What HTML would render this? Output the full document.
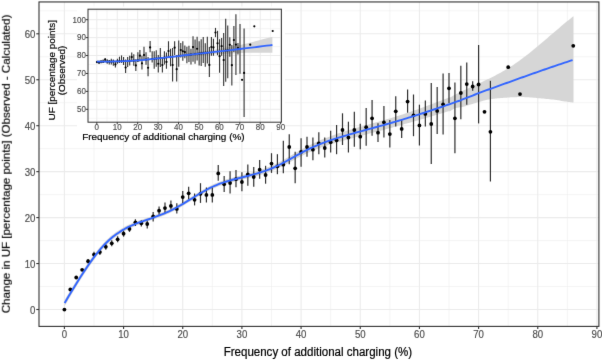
<!DOCTYPE html>
<html><head><meta charset="utf-8"><style>
html,body{margin:0;padding:0;background:#fff;width:602px;height:360px;overflow:hidden}
svg{display:block;font-family:"Liberation Sans",sans-serif}
</style></head><body>
<svg width="602" height="360" viewBox="0 0 602 360"><defs><filter id="bl" x="0" y="0" width="602" height="360" filterUnits="userSpaceOnUse" color-interpolation-filters="sRGB"><feConvolveMatrix order="3" kernelMatrix="0.00524 0.06192 0.00524 0.06192 0.73137 0.06192 0.00524 0.06192 0.00524" edgeMode="duplicate"/></filter></defs><g filter="url(#bl)">
<rect x="0" y="0" width="602" height="360" fill="#fff"/>
<line x1="93.99" y1="1.95" x2="93.99" y2="326.4" stroke="#ebebeb" stroke-width="0.55"/>
<line x1="153.16" y1="1.95" x2="153.16" y2="326.4" stroke="#ebebeb" stroke-width="0.55"/>
<line x1="212.32" y1="1.95" x2="212.32" y2="326.4" stroke="#ebebeb" stroke-width="0.55"/>
<line x1="271.50" y1="1.95" x2="271.50" y2="326.4" stroke="#ebebeb" stroke-width="0.55"/>
<line x1="330.66" y1="1.95" x2="330.66" y2="326.4" stroke="#ebebeb" stroke-width="0.55"/>
<line x1="389.84" y1="1.95" x2="389.84" y2="326.4" stroke="#ebebeb" stroke-width="0.55"/>
<line x1="449.00" y1="1.95" x2="449.00" y2="326.4" stroke="#ebebeb" stroke-width="0.55"/>
<line x1="508.17" y1="1.95" x2="508.17" y2="326.4" stroke="#ebebeb" stroke-width="0.55"/>
<line x1="567.35" y1="1.95" x2="567.35" y2="326.4" stroke="#ebebeb" stroke-width="0.55"/>
<line x1="39.0" y1="286.52" x2="598.9" y2="286.52" stroke="#ebebeb" stroke-width="0.55"/>
<line x1="39.0" y1="240.57" x2="598.9" y2="240.57" stroke="#ebebeb" stroke-width="0.55"/>
<line x1="39.0" y1="194.62" x2="598.9" y2="194.62" stroke="#ebebeb" stroke-width="0.55"/>
<line x1="39.0" y1="148.68" x2="598.9" y2="148.68" stroke="#ebebeb" stroke-width="0.55"/>
<line x1="39.0" y1="102.73" x2="598.9" y2="102.73" stroke="#ebebeb" stroke-width="0.55"/>
<line x1="39.0" y1="56.78" x2="598.9" y2="56.78" stroke="#ebebeb" stroke-width="0.55"/>
<line x1="39.0" y1="10.82" x2="598.9" y2="10.82" stroke="#ebebeb" stroke-width="0.55"/>
<line x1="64.40" y1="1.95" x2="64.40" y2="326.4" stroke="#ebebeb" stroke-width="1.1"/>
<line x1="123.57" y1="1.95" x2="123.57" y2="326.4" stroke="#ebebeb" stroke-width="1.1"/>
<line x1="182.74" y1="1.95" x2="182.74" y2="326.4" stroke="#ebebeb" stroke-width="1.1"/>
<line x1="241.91" y1="1.95" x2="241.91" y2="326.4" stroke="#ebebeb" stroke-width="1.1"/>
<line x1="301.08" y1="1.95" x2="301.08" y2="326.4" stroke="#ebebeb" stroke-width="1.1"/>
<line x1="360.25" y1="1.95" x2="360.25" y2="326.4" stroke="#ebebeb" stroke-width="1.1"/>
<line x1="419.42" y1="1.95" x2="419.42" y2="326.4" stroke="#ebebeb" stroke-width="1.1"/>
<line x1="478.59" y1="1.95" x2="478.59" y2="326.4" stroke="#ebebeb" stroke-width="1.1"/>
<line x1="537.76" y1="1.95" x2="537.76" y2="326.4" stroke="#ebebeb" stroke-width="1.1"/>
<line x1="596.93" y1="1.95" x2="596.93" y2="326.4" stroke="#ebebeb" stroke-width="1.1"/>
<line x1="39.0" y1="309.50" x2="598.9" y2="309.50" stroke="#ebebeb" stroke-width="1.1"/>
<line x1="39.0" y1="263.55" x2="598.9" y2="263.55" stroke="#ebebeb" stroke-width="1.1"/>
<line x1="39.0" y1="217.60" x2="598.9" y2="217.60" stroke="#ebebeb" stroke-width="1.1"/>
<line x1="39.0" y1="171.65" x2="598.9" y2="171.65" stroke="#ebebeb" stroke-width="1.1"/>
<line x1="39.0" y1="125.70" x2="598.9" y2="125.70" stroke="#ebebeb" stroke-width="1.1"/>
<line x1="39.0" y1="79.75" x2="598.9" y2="79.75" stroke="#ebebeb" stroke-width="1.1"/>
<line x1="39.0" y1="33.80" x2="598.9" y2="33.80" stroke="#ebebeb" stroke-width="1.1"/>
<path d="M64.60,300.06 L66.60,296.71 L68.60,293.38 L70.60,290.06 L72.60,286.78 L74.60,283.53 L76.60,280.32 L78.60,277.15 L80.60,274.03 L82.60,270.94 L84.60,267.92 L86.60,264.97 L88.60,262.07 L90.60,259.25 L92.60,256.51 L94.60,253.83 L96.60,251.25 L98.60,248.76 L100.60,246.39 L102.60,244.16 L104.60,242.04 L106.60,240.03 L108.60,238.14 L110.60,236.37 L112.60,234.71 L114.60,233.17 L116.60,231.75 L118.60,230.43 L120.60,229.19 L122.60,227.99 L124.60,226.86 L126.60,225.81 L128.60,224.84 L130.60,223.93 L132.60,223.07 L134.60,222.26 L136.60,221.50 L138.60,220.77 L140.60,220.07 L142.60,219.39 L144.60,218.72 L146.60,218.07 L148.60,217.42 L150.60,216.75 L152.60,216.05 L154.60,215.34 L156.60,214.61 L158.60,213.87 L160.60,213.10 L162.60,212.30 L164.60,211.47 L166.60,210.60 L168.60,209.70 L170.60,208.75 L172.60,207.74 L174.60,206.69 L176.60,205.60 L178.60,204.48 L180.60,203.32 L182.60,202.13 L184.60,200.92 L186.60,199.70 L188.60,198.47 L190.60,197.23 L192.60,195.99 L194.60,194.75 L196.60,193.53 L198.60,192.32 L200.60,191.13 L202.60,189.96 L204.60,188.83 L206.60,187.73 L208.60,186.67 L210.60,185.65 L212.60,184.69 L214.60,183.79 L216.60,182.94 L218.60,182.14 L220.60,181.39 L222.60,180.68 L224.60,180.01 L226.60,179.37 L228.60,178.77 L230.60,178.18 L232.60,177.63 L234.60,177.09 L236.60,176.56 L238.60,176.04 L240.60,175.53 L242.60,175.02 L244.60,174.52 L246.60,173.98 L248.60,173.44 L250.60,172.89 L252.60,172.32 L254.60,171.75 L256.60,171.15 L258.60,170.52 L260.60,169.88 L262.60,169.20 L264.60,168.49 L266.60,167.76 L268.60,166.98 L270.60,166.16 L272.60,165.30 L274.60,164.38 L276.60,163.43 L278.60,162.42 L280.60,161.38 L282.60,160.31 L284.60,159.20 L286.60,158.07 L288.60,156.93 L290.60,155.77 L292.60,154.61 L294.60,153.46 L296.60,152.30 L298.60,151.16 L300.60,150.02 L302.60,148.89 L304.60,147.80 L306.60,146.73 L308.60,145.69 L310.60,144.68 L312.60,143.71 L314.60,142.77 L316.60,141.85 L318.60,140.97 L320.60,140.11 L322.60,139.28 L324.60,138.48 L326.60,137.69 L328.60,136.92 L330.60,136.18 L332.60,135.45 L334.60,134.74 L336.60,134.04 L338.60,133.36 L340.60,132.70 L342.60,132.04 L344.60,131.38 L346.60,130.78 L348.60,130.18 L350.60,129.59 L352.60,129.00 L354.60,128.42 L356.60,127.84 L358.60,127.28 L360.60,126.71 L362.60,126.14 L364.60,125.57 L366.60,125.01 L368.60,124.45 L370.60,123.89 L372.60,123.33 L374.60,122.76 L376.60,122.19 L378.60,121.63 L380.60,121.07 L382.60,120.49 L384.60,119.92 L386.60,119.34 L388.60,118.75 L390.60,118.17 L392.60,117.57 L394.60,116.97 L396.60,116.36 L398.60,115.75 L400.60,115.12 L402.60,114.45 L404.60,113.78 L406.60,113.09 L408.60,112.41 L410.60,111.72 L412.60,111.03 L414.60,110.32 L416.60,109.63 L418.60,108.92 L420.60,108.20 L422.60,107.49 L424.60,106.77 L426.60,106.05 L428.60,105.32 L430.60,104.59 L432.60,103.84 L434.60,103.09 L436.60,102.34 L438.60,101.58 L440.60,100.82 L442.60,100.06 L444.60,99.29 L446.60,98.52 L448.60,97.75 L450.00,97.47 L451.50,96.65 L453.00,95.84 L454.50,95.05 L456.00,94.27 L457.50,93.51 L459.00,92.76 L460.50,92.01 L462.00,91.28 L463.50,90.56 L465.00,89.84 L466.50,89.13 L468.00,88.43 L469.50,87.73 L471.00,87.04 L472.50,86.35 L474.00,85.66 L475.50,84.97 L477.00,84.28 L478.50,83.59 L480.00,82.90 L481.50,82.20 L483.00,81.50 L484.50,80.80 L486.00,80.09 L487.50,79.37 L489.00,78.64 L490.50,77.91 L492.00,77.16 L493.50,76.41 L495.00,75.64 L496.50,74.86 L498.00,74.07 L499.50,73.26 L501.00,72.43 L502.50,71.59 L504.00,70.73 L505.50,69.85 L507.00,68.95 L508.50,68.03 L510.00,67.09 L511.50,66.12 L513.00,65.13 L514.50,64.12 L516.00,63.09 L517.50,62.03 L519.00,60.96 L520.50,59.86 L522.00,58.75 L523.50,57.62 L525.00,56.47 L526.50,55.30 L528.00,54.13 L529.50,52.93 L531.00,51.73 L532.50,50.51 L534.00,49.28 L535.50,48.04 L537.00,46.80 L538.50,45.54 L540.00,44.28 L541.50,43.01 L543.00,41.73 L544.50,40.45 L546.00,39.17 L547.50,37.89 L549.00,36.60 L550.50,35.31 L552.00,34.03 L553.50,32.74 L555.00,31.46 L556.50,30.18 L558.00,28.90 L559.50,27.63 L561.00,26.36 L562.50,25.10 L564.00,23.85 L565.50,22.61 L567.00,21.37 L568.50,20.15 L570.00,18.94 L571.50,17.74 L573.00,16.56 L573.50,16.17 L573.50,102.60 L572.96,102.53 L572.28,102.44 L571.48,102.34 L570.56,102.22 L569.54,102.09 L568.44,101.94 L567.25,101.78 L566.00,101.60 L564.64,101.39 L563.14,101.15 L561.53,100.89 L559.84,100.62 L558.12,100.34 L556.38,100.07 L554.66,99.82 L553.00,99.60 L551.38,99.40 L549.75,99.22 L548.12,99.05 L546.50,98.89 L544.88,98.74 L543.25,98.59 L541.62,98.45 L540.00,98.30 L538.38,98.15 L536.77,97.99 L535.17,97.82 L533.56,97.67 L531.95,97.52 L530.32,97.39 L528.67,97.28 L527.00,97.20 L525.26,97.14 L523.43,97.11 L521.57,97.09 L519.70,97.09 L517.87,97.11 L516.12,97.13 L514.48,97.16 L513.00,97.20 L511.70,97.25 L510.54,97.31 L509.50,97.38 L508.54,97.46 L507.63,97.55 L506.72,97.64 L505.79,97.72 L504.80,97.80 L503.77,97.87 L502.73,97.94 L501.69,98.00 L500.66,98.06 L499.62,98.13 L498.58,98.21 L497.54,98.30 L496.50,98.40 L495.46,98.52 L494.43,98.64 L493.39,98.77 L492.35,98.91 L491.31,99.06 L490.27,99.22 L489.24,99.40 L488.20,99.60 L487.16,99.82 L486.12,100.05 L485.09,100.30 L484.05,100.57 L483.01,100.84 L481.97,101.13 L480.94,101.41 L479.90,101.70 L478.86,101.99 L477.82,102.30 L476.79,102.61 L475.75,102.93 L474.71,103.24 L473.68,103.57 L472.64,103.88 L471.60,104.20 L470.56,104.52 L469.53,104.85 L468.49,105.18 L467.45,105.51 L466.41,105.83 L465.38,106.14 L464.34,106.43 L463.30,106.70 L462.24,106.93 L461.15,107.13 L460.04,107.30 L458.94,107.47 L457.87,107.64 L456.84,107.82 L455.88,108.04 L455.00,108.30 L454.18,108.63 L453.40,109.02 L452.66,109.45 L451.98,109.89 L451.36,110.33 L450.82,110.72 L450.36,111.05 L450.00,111.29 L448.60,111.23 L446.60,111.84 L444.60,112.45 L442.60,113.06 L440.60,113.66 L438.60,114.26 L436.60,114.86 L434.60,115.45 L432.60,116.04 L430.60,116.63 L428.60,117.22 L426.60,117.83 L424.60,118.41 L422.60,118.99 L420.60,119.58 L418.60,120.16 L416.60,120.73 L414.60,121.30 L412.60,121.87 L410.60,122.42 L408.60,122.99 L406.60,123.53 L404.60,124.08 L402.60,124.63 L400.60,125.16 L398.60,125.73 L396.60,126.30 L394.60,126.87 L392.60,127.43 L390.60,127.99 L388.60,128.55 L386.60,129.10 L384.60,129.64 L382.60,130.17 L380.60,130.71 L378.60,131.25 L376.60,131.77 L374.60,132.30 L372.60,132.83 L370.60,133.35 L368.60,133.87 L366.60,134.41 L364.60,134.93 L362.60,135.46 L360.60,135.99 L358.60,136.52 L356.60,137.06 L354.60,137.60 L352.60,138.14 L350.60,138.69 L348.60,139.24 L346.60,139.80 L344.60,140.36 L342.60,140.90 L340.60,141.44 L338.60,142.00 L336.60,142.56 L334.60,143.14 L332.60,143.73 L330.60,144.34 L328.60,144.98 L326.60,145.63 L324.60,146.30 L322.60,146.98 L320.60,147.71 L318.60,148.45 L316.60,149.21 L314.60,150.01 L312.60,150.83 L310.60,151.70 L308.60,152.59 L306.60,153.51 L304.60,154.46 L302.60,155.45 L300.60,156.46 L298.60,157.50 L296.60,158.58 L294.60,159.66 L292.60,160.75 L290.60,161.83 L288.60,162.91 L286.60,163.99 L284.60,165.04 L282.60,166.07 L280.60,167.08 L278.60,168.04 L276.60,168.97 L274.60,169.86 L272.60,170.70 L270.60,171.50 L268.60,172.24 L266.60,172.94 L264.60,173.61 L262.60,174.24 L260.60,174.84 L258.60,175.42 L256.60,175.97 L254.60,176.49 L252.60,177.00 L250.60,177.49 L248.60,177.98 L246.60,178.44 L244.60,178.92 L242.60,179.40 L240.60,179.89 L238.60,180.38 L236.60,180.88 L234.60,181.39 L232.60,181.91 L230.60,182.46 L228.60,183.03 L226.60,183.61 L224.60,184.23 L222.60,184.88 L220.60,185.57 L218.60,186.30 L216.60,187.08 L214.60,187.91 L212.60,188.81 L210.60,189.75 L208.60,190.75 L206.60,191.79 L204.60,192.87 L202.60,193.98 L200.60,195.13 L198.60,196.30 L196.60,197.51 L194.60,198.71 L192.60,199.93 L190.60,201.15 L188.60,202.37 L186.60,203.60 L184.60,204.80 L182.60,205.99 L180.60,207.16 L178.60,208.30 L176.60,209.42 L174.60,210.49 L172.60,211.52 L170.60,212.51 L168.60,213.44 L166.60,214.34 L164.60,215.19 L162.60,216.00 L160.60,216.78 L158.60,217.53 L156.60,218.27 L154.60,218.98 L152.60,219.67 L150.60,220.35 L148.60,221.06 L146.60,221.77 L144.60,222.48 L142.60,223.19 L140.60,223.93 L138.60,224.69 L136.60,225.48 L134.60,226.30 L132.60,227.15 L130.60,228.07 L128.60,229.04 L126.60,230.07 L124.60,231.18 L122.60,232.35 L120.60,233.61 L118.60,234.91 L116.60,236.29 L114.60,237.77 L112.60,239.35 L110.60,241.07 L108.60,242.90 L106.60,244.85 L104.60,246.92 L102.60,249.08 L100.60,251.37 L98.60,253.80 L96.60,256.35 L94.60,258.99 L92.60,261.71 L90.60,264.51 L88.60,267.39 L86.60,270.35 L84.60,273.36 L82.60,276.44 L80.60,279.57 L78.60,282.75 L76.60,285.98 L74.60,289.25 L72.60,292.56 L70.60,295.90 L68.60,299.26 L66.60,302.65 L64.60,306.06 Z" fill="#d6d6d6" stroke="none"/>
<line x1="88.07" y1="258.9" x2="88.07" y2="263.5" stroke="#2e2e2e" stroke-width="1.2"/>
<line x1="93.99" y1="251.7" x2="93.99" y2="257.5" stroke="#2e2e2e" stroke-width="1.2"/>
<line x1="99.90" y1="249.2" x2="99.90" y2="255.0" stroke="#2e2e2e" stroke-width="1.2"/>
<line x1="105.82" y1="243.8" x2="105.82" y2="249.8" stroke="#2e2e2e" stroke-width="1.2"/>
<line x1="111.74" y1="240.3" x2="111.74" y2="246.3" stroke="#2e2e2e" stroke-width="1.2"/>
<line x1="117.65" y1="236.3" x2="117.65" y2="242.3" stroke="#2e2e2e" stroke-width="1.2"/>
<line x1="123.57" y1="230.7" x2="123.57" y2="236.7" stroke="#2e2e2e" stroke-width="1.2"/>
<line x1="129.49" y1="225.9" x2="129.49" y2="231.9" stroke="#2e2e2e" stroke-width="1.2"/>
<line x1="135.40" y1="219.3" x2="135.40" y2="226.0" stroke="#2e2e2e" stroke-width="1.2"/>
<line x1="141.32" y1="220.3" x2="141.32" y2="226.5" stroke="#2e2e2e" stroke-width="1.2"/>
<line x1="147.24" y1="220.5" x2="147.24" y2="228.5" stroke="#2e2e2e" stroke-width="1.2"/>
<line x1="153.16" y1="212.0" x2="153.16" y2="221.4" stroke="#2e2e2e" stroke-width="1.2"/>
<line x1="159.07" y1="206.4" x2="159.07" y2="214.7" stroke="#2e2e2e" stroke-width="1.2"/>
<line x1="164.99" y1="202.6" x2="164.99" y2="212.9" stroke="#2e2e2e" stroke-width="1.2"/>
<line x1="170.91" y1="200.4" x2="170.91" y2="209.4" stroke="#2e2e2e" stroke-width="1.2"/>
<line x1="176.82" y1="203.2" x2="176.82" y2="213.6" stroke="#2e2e2e" stroke-width="1.2"/>
<line x1="182.74" y1="191.0" x2="182.74" y2="203.2" stroke="#2e2e2e" stroke-width="1.2"/>
<line x1="188.66" y1="186.8" x2="188.66" y2="199.5" stroke="#2e2e2e" stroke-width="1.2"/>
<line x1="194.57" y1="193.5" x2="194.57" y2="205.4" stroke="#2e2e2e" stroke-width="1.2"/>
<line x1="200.49" y1="183.2" x2="200.49" y2="202.9" stroke="#2e2e2e" stroke-width="1.2"/>
<line x1="206.41" y1="187.5" x2="206.41" y2="202.5" stroke="#2e2e2e" stroke-width="1.2"/>
<line x1="212.32" y1="187.2" x2="212.32" y2="202.4" stroke="#2e2e2e" stroke-width="1.2"/>
<line x1="218.24" y1="165.0" x2="218.24" y2="180.8" stroke="#2e2e2e" stroke-width="1.2"/>
<line x1="224.16" y1="176.1" x2="224.16" y2="192.1" stroke="#2e2e2e" stroke-width="1.2"/>
<line x1="230.08" y1="171.2" x2="230.08" y2="193.5" stroke="#2e2e2e" stroke-width="1.2"/>
<line x1="235.99" y1="170.0" x2="235.99" y2="187.3" stroke="#2e2e2e" stroke-width="1.2"/>
<line x1="241.91" y1="172.2" x2="241.91" y2="191.3" stroke="#2e2e2e" stroke-width="1.2"/>
<line x1="247.83" y1="164.5" x2="247.83" y2="185.8" stroke="#2e2e2e" stroke-width="1.2"/>
<line x1="253.74" y1="167.0" x2="253.74" y2="186.7" stroke="#2e2e2e" stroke-width="1.2"/>
<line x1="259.66" y1="160.0" x2="259.66" y2="178.7" stroke="#2e2e2e" stroke-width="1.2"/>
<line x1="265.58" y1="165.8" x2="265.58" y2="183.7" stroke="#2e2e2e" stroke-width="1.2"/>
<line x1="271.50" y1="153.2" x2="271.50" y2="172.9" stroke="#2e2e2e" stroke-width="1.2"/>
<line x1="277.41" y1="154.2" x2="277.41" y2="174.2" stroke="#2e2e2e" stroke-width="1.2"/>
<line x1="283.33" y1="140.8" x2="283.33" y2="173.3" stroke="#2e2e2e" stroke-width="1.2"/>
<line x1="289.25" y1="134.2" x2="289.25" y2="164.2" stroke="#2e2e2e" stroke-width="1.2"/>
<line x1="295.16" y1="151.7" x2="295.16" y2="183.3" stroke="#2e2e2e" stroke-width="1.2"/>
<line x1="301.08" y1="138.3" x2="301.08" y2="166.7" stroke="#2e2e2e" stroke-width="1.2"/>
<line x1="307.00" y1="136.7" x2="307.00" y2="156.7" stroke="#2e2e2e" stroke-width="1.2"/>
<line x1="312.91" y1="137.5" x2="312.91" y2="160.3" stroke="#2e2e2e" stroke-width="1.2"/>
<line x1="318.83" y1="132.2" x2="318.83" y2="154.2" stroke="#2e2e2e" stroke-width="1.2"/>
<line x1="324.75" y1="137.5" x2="324.75" y2="157.5" stroke="#2e2e2e" stroke-width="1.2"/>
<line x1="330.66" y1="130.8" x2="330.66" y2="152.5" stroke="#2e2e2e" stroke-width="1.2"/>
<line x1="336.58" y1="125.0" x2="336.58" y2="154.2" stroke="#2e2e2e" stroke-width="1.2"/>
<line x1="342.50" y1="113.3" x2="342.50" y2="145.0" stroke="#2e2e2e" stroke-width="1.2"/>
<line x1="348.42" y1="121.7" x2="348.42" y2="152.5" stroke="#2e2e2e" stroke-width="1.2"/>
<line x1="354.33" y1="111.7" x2="354.33" y2="146.7" stroke="#2e2e2e" stroke-width="1.2"/>
<line x1="360.25" y1="123.7" x2="360.25" y2="149.2" stroke="#2e2e2e" stroke-width="1.2"/>
<line x1="366.17" y1="108.0" x2="366.17" y2="145.8" stroke="#2e2e2e" stroke-width="1.2"/>
<line x1="372.08" y1="100.0" x2="372.08" y2="135.8" stroke="#2e2e2e" stroke-width="1.2"/>
<line x1="378.00" y1="123.3" x2="378.00" y2="142.0" stroke="#2e2e2e" stroke-width="1.2"/>
<line x1="383.92" y1="106.0" x2="383.92" y2="137.6" stroke="#2e2e2e" stroke-width="1.2"/>
<line x1="389.84" y1="120.0" x2="389.84" y2="147.5" stroke="#2e2e2e" stroke-width="1.2"/>
<line x1="395.75" y1="96.3" x2="395.75" y2="126.5" stroke="#2e2e2e" stroke-width="1.2"/>
<line x1="401.67" y1="120.0" x2="401.67" y2="138.0" stroke="#2e2e2e" stroke-width="1.2"/>
<line x1="407.59" y1="89.5" x2="407.59" y2="112.7" stroke="#2e2e2e" stroke-width="1.2"/>
<line x1="413.50" y1="94.5" x2="413.50" y2="136.2" stroke="#2e2e2e" stroke-width="1.2"/>
<line x1="419.42" y1="104.7" x2="419.42" y2="145.5" stroke="#2e2e2e" stroke-width="1.2"/>
<line x1="425.34" y1="100.5" x2="425.34" y2="126.6" stroke="#2e2e2e" stroke-width="1.2"/>
<line x1="431.25" y1="83.0" x2="431.25" y2="164.0" stroke="#2e2e2e" stroke-width="1.2"/>
<line x1="437.17" y1="87.0" x2="437.17" y2="134.0" stroke="#2e2e2e" stroke-width="1.2"/>
<line x1="443.09" y1="73.5" x2="443.09" y2="134.6" stroke="#2e2e2e" stroke-width="1.2"/>
<line x1="449.00" y1="72.9" x2="449.00" y2="102.9" stroke="#2e2e2e" stroke-width="1.2"/>
<line x1="454.92" y1="82.4" x2="454.92" y2="153.3" stroke="#2e2e2e" stroke-width="1.2"/>
<line x1="460.84" y1="65.8" x2="460.84" y2="119.2" stroke="#2e2e2e" stroke-width="1.2"/>
<line x1="466.76" y1="62.6" x2="466.76" y2="104.8" stroke="#2e2e2e" stroke-width="1.2"/>
<line x1="472.67" y1="81.2" x2="472.67" y2="90.8" stroke="#2e2e2e" stroke-width="1.2"/>
<line x1="478.59" y1="45.0" x2="478.59" y2="123.4" stroke="#2e2e2e" stroke-width="1.2"/>
<line x1="490.42" y1="80.8" x2="490.42" y2="181.5" stroke="#2e2e2e" stroke-width="1.2"/>
<circle cx="64.40" cy="309.6" r="1.9" fill="#000"/>
<circle cx="70.32" cy="289.5" r="1.9" fill="#000"/>
<circle cx="76.23" cy="277.5" r="1.9" fill="#000"/>
<circle cx="82.15" cy="269.8" r="1.9" fill="#000"/>
<circle cx="88.07" cy="261.2" r="1.9" fill="#000"/>
<circle cx="93.99" cy="254.6" r="1.9" fill="#000"/>
<circle cx="99.90" cy="252.1" r="1.9" fill="#000"/>
<circle cx="105.82" cy="246.8" r="1.9" fill="#000"/>
<circle cx="111.74" cy="243.3" r="1.9" fill="#000"/>
<circle cx="117.65" cy="239.3" r="1.9" fill="#000"/>
<circle cx="123.57" cy="233.7" r="1.9" fill="#000"/>
<circle cx="129.49" cy="228.9" r="1.9" fill="#000"/>
<circle cx="135.40" cy="222.3" r="1.9" fill="#000"/>
<circle cx="141.32" cy="223.3" r="1.9" fill="#000"/>
<circle cx="147.24" cy="224.0" r="1.9" fill="#000"/>
<circle cx="153.16" cy="216.5" r="1.9" fill="#000"/>
<circle cx="159.07" cy="210.7" r="1.9" fill="#000"/>
<circle cx="164.99" cy="208.1" r="1.9" fill="#000"/>
<circle cx="170.91" cy="205.9" r="1.9" fill="#000"/>
<circle cx="176.82" cy="208.9" r="1.9" fill="#000"/>
<circle cx="182.74" cy="197.1" r="1.9" fill="#000"/>
<circle cx="188.66" cy="193.3" r="1.9" fill="#000"/>
<circle cx="194.57" cy="199.8" r="1.9" fill="#000"/>
<circle cx="200.49" cy="193.8" r="1.9" fill="#000"/>
<circle cx="206.41" cy="194.9" r="1.9" fill="#000"/>
<circle cx="212.32" cy="194.9" r="1.9" fill="#000"/>
<circle cx="218.24" cy="173.4" r="1.9" fill="#000"/>
<circle cx="224.16" cy="184.3" r="1.9" fill="#000"/>
<circle cx="230.08" cy="183.0" r="1.9" fill="#000"/>
<circle cx="235.99" cy="179.2" r="1.9" fill="#000"/>
<circle cx="241.91" cy="182.0" r="1.9" fill="#000"/>
<circle cx="247.83" cy="174.5" r="1.9" fill="#000"/>
<circle cx="253.74" cy="177.0" r="1.9" fill="#000"/>
<circle cx="259.66" cy="169.7" r="1.9" fill="#000"/>
<circle cx="265.58" cy="175.0" r="1.9" fill="#000"/>
<circle cx="271.50" cy="163.6" r="1.9" fill="#000"/>
<circle cx="277.41" cy="166.3" r="1.9" fill="#000"/>
<circle cx="283.33" cy="164.7" r="1.9" fill="#000"/>
<circle cx="289.25" cy="147.0" r="1.9" fill="#000"/>
<circle cx="295.16" cy="168.3" r="1.9" fill="#000"/>
<circle cx="301.08" cy="152.0" r="1.9" fill="#000"/>
<circle cx="307.00" cy="147.0" r="1.9" fill="#000"/>
<circle cx="312.91" cy="149.7" r="1.9" fill="#000"/>
<circle cx="318.83" cy="143.3" r="1.9" fill="#000"/>
<circle cx="324.75" cy="148.0" r="1.9" fill="#000"/>
<circle cx="330.66" cy="142.2" r="1.9" fill="#000"/>
<circle cx="336.58" cy="140.3" r="1.9" fill="#000"/>
<circle cx="342.50" cy="130.0" r="1.9" fill="#000"/>
<circle cx="348.42" cy="137.5" r="1.9" fill="#000"/>
<circle cx="354.33" cy="130.0" r="1.9" fill="#000"/>
<circle cx="360.25" cy="136.7" r="1.9" fill="#000"/>
<circle cx="366.17" cy="127.2" r="1.9" fill="#000"/>
<circle cx="372.08" cy="118.3" r="1.9" fill="#000"/>
<circle cx="378.00" cy="132.7" r="1.9" fill="#000"/>
<circle cx="383.92" cy="122.3" r="1.9" fill="#000"/>
<circle cx="389.84" cy="134.1" r="1.9" fill="#000"/>
<circle cx="395.75" cy="111.3" r="1.9" fill="#000"/>
<circle cx="401.67" cy="128.9" r="1.9" fill="#000"/>
<circle cx="407.59" cy="101.6" r="1.9" fill="#000"/>
<circle cx="413.50" cy="115.3" r="1.9" fill="#000"/>
<circle cx="419.42" cy="125.4" r="1.9" fill="#000"/>
<circle cx="425.34" cy="113.9" r="1.9" fill="#000"/>
<circle cx="431.25" cy="124.0" r="1.9" fill="#000"/>
<circle cx="437.17" cy="110.9" r="1.9" fill="#000"/>
<circle cx="443.09" cy="104.3" r="1.9" fill="#000"/>
<circle cx="449.00" cy="88.3" r="1.9" fill="#000"/>
<circle cx="454.92" cy="118.3" r="1.9" fill="#000"/>
<circle cx="460.84" cy="93.0" r="1.9" fill="#000"/>
<circle cx="466.76" cy="84.1" r="1.9" fill="#000"/>
<circle cx="472.67" cy="86.5" r="1.9" fill="#000"/>
<circle cx="478.59" cy="84.5" r="1.9" fill="#000"/>
<circle cx="484.51" cy="111.8" r="1.9" fill="#000"/>
<circle cx="490.42" cy="131.8" r="1.9" fill="#000"/>
<circle cx="508.17" cy="67.2" r="1.9" fill="#000"/>
<circle cx="520.01" cy="94.1" r="1.9" fill="#000"/>
<circle cx="573.26" cy="45.8" r="1.9" fill="#000"/>
<path d="M64.60,303.06 L66.60,299.68 L68.60,296.32 L70.60,292.98 L72.60,289.67 L74.60,286.39 L76.60,283.15 L78.60,279.95 L80.60,276.80 L82.60,273.69 L84.60,270.64 L86.60,267.66 L88.60,264.73 L90.60,261.88 L92.60,259.11 L94.60,256.41 L96.60,253.80 L98.60,251.28 L100.60,248.88 L102.60,246.62 L104.60,244.48 L106.60,242.44 L108.60,240.52 L110.60,238.72 L112.60,237.03 L114.60,235.47 L116.60,234.02 L118.60,232.67 L120.60,231.40 L122.60,230.17 L124.60,229.02 L126.60,227.94 L128.60,226.94 L130.60,226.00 L132.60,225.11 L134.60,224.28 L136.60,223.49 L138.60,222.73 L140.60,222.00 L142.60,221.29 L144.60,220.60 L146.60,219.92 L148.60,219.24 L150.60,218.55 L152.60,217.86 L154.60,217.16 L156.60,216.44 L158.60,215.70 L160.60,214.94 L162.60,214.15 L164.60,213.33 L166.60,212.47 L168.60,211.57 L170.60,210.63 L172.60,209.63 L174.60,208.59 L176.60,207.51 L178.60,206.39 L180.60,205.24 L182.60,204.06 L184.60,202.86 L186.60,201.65 L188.60,200.42 L190.60,199.19 L192.60,197.96 L194.60,196.73 L196.60,195.52 L198.60,194.31 L200.60,193.13 L202.60,191.97 L204.60,190.85 L206.60,189.76 L208.60,188.71 L210.60,187.70 L212.60,186.75 L214.60,185.85 L216.60,185.01 L218.60,184.22 L220.60,183.48 L222.60,182.78 L224.60,182.12 L226.60,181.49 L228.60,180.90 L230.60,180.32 L232.60,179.77 L234.60,179.24 L236.60,178.72 L238.60,178.21 L240.60,177.71 L242.60,177.21 L244.60,176.72 L246.60,176.21 L248.60,175.71 L250.60,175.19 L252.60,174.66 L254.60,174.12 L256.60,173.56 L258.60,172.97 L260.60,172.36 L262.60,171.72 L264.60,171.05 L266.60,170.35 L268.60,169.61 L270.60,168.83 L272.60,168.00 L274.60,167.12 L276.60,166.20 L278.60,165.23 L280.60,164.23 L282.60,163.19 L284.60,162.12 L286.60,161.03 L288.60,159.92 L290.60,158.80 L292.60,157.68 L294.60,156.56 L296.60,155.44 L298.60,154.33 L300.60,153.24 L302.60,152.17 L304.60,151.13 L306.60,150.12 L308.60,149.14 L310.60,148.19 L312.60,147.27 L314.60,146.39 L316.60,145.53 L318.60,144.71 L320.60,143.91 L322.60,143.13 L324.60,142.39 L326.60,141.66 L328.60,140.95 L330.60,140.26 L332.60,139.59 L334.60,138.94 L336.60,138.30 L338.60,137.68 L340.60,137.07 L342.60,136.47 L344.60,135.87 L346.60,135.29 L348.60,134.71 L350.60,134.14 L352.60,133.57 L354.60,133.01 L356.60,132.45 L358.60,131.90 L360.60,131.35 L362.60,130.80 L364.60,130.25 L366.60,129.71 L368.60,129.16 L370.60,128.62 L372.60,128.08 L374.60,127.53 L376.60,126.98 L378.60,126.44 L380.60,125.89 L382.60,125.33 L384.60,124.78 L386.60,124.22 L388.60,123.65 L390.60,123.08 L392.60,122.50 L394.60,121.92 L396.60,121.33 L398.60,120.74 L400.60,120.14 L402.60,119.54 L404.60,118.93 L406.60,118.31 L408.60,117.70 L410.60,117.07 L412.60,116.45 L414.60,115.81 L416.60,115.18 L418.60,114.54 L420.60,113.89 L422.60,113.24 L424.60,112.59 L426.60,111.94 L428.60,111.27 L430.60,110.61 L432.60,109.94 L434.60,109.27 L436.60,108.60 L438.60,107.92 L440.60,107.24 L442.60,106.56 L444.60,105.87 L446.60,105.18 L448.60,104.49 L450.60,103.80 L452.60,103.10 L454.60,102.40 L456.60,101.70 L458.60,100.99 L460.60,100.27 L462.60,99.48 L464.60,98.70 L466.60,97.91 L468.60,97.13 L470.60,96.34 L472.60,95.55 L474.60,94.75 L476.60,93.96 L478.60,93.17 L480.60,92.40 L482.60,91.67 L484.60,90.95 L486.60,90.23 L488.60,89.51 L490.60,88.78 L492.60,88.06 L494.60,87.34 L496.60,86.61 L498.60,85.89 L500.60,85.17 L502.60,84.44 L504.60,83.72 L506.60,83.00 L508.60,82.27 L510.60,81.55 L512.60,80.83 L514.60,80.11 L516.60,79.39 L518.60,78.67 L520.60,77.96 L522.60,77.24 L524.60,76.53 L526.60,75.81 L528.60,75.10 L530.60,74.39 L532.60,73.69 L534.60,72.98 L536.60,72.28 L538.60,71.57 L540.60,70.88 L542.60,70.18 L544.60,69.48 L546.60,68.79 L548.60,68.10 L550.60,67.42 L552.60,66.73 L554.60,66.05 L556.60,65.37 L558.60,64.70 L560.60,64.03 L562.60,63.36 L564.60,62.69 L566.60,62.03 L568.60,61.38 L570.60,60.72 L572.60,60.07" fill="none" stroke="#3366ff" stroke-width="1.9" stroke-linecap="butt"/>
<rect x="39.0" y="1.95" width="559.90" height="324.45" fill="none" stroke="#333" stroke-width="1.1"/>
<line x1="64.40" y1="326.4" x2="64.40" y2="329.09999999999997" stroke="#333" stroke-width="1.1"/>
<line x1="123.57" y1="326.4" x2="123.57" y2="329.09999999999997" stroke="#333" stroke-width="1.1"/>
<line x1="182.74" y1="326.4" x2="182.74" y2="329.09999999999997" stroke="#333" stroke-width="1.1"/>
<line x1="241.91" y1="326.4" x2="241.91" y2="329.09999999999997" stroke="#333" stroke-width="1.1"/>
<line x1="301.08" y1="326.4" x2="301.08" y2="329.09999999999997" stroke="#333" stroke-width="1.1"/>
<line x1="360.25" y1="326.4" x2="360.25" y2="329.09999999999997" stroke="#333" stroke-width="1.1"/>
<line x1="419.42" y1="326.4" x2="419.42" y2="329.09999999999997" stroke="#333" stroke-width="1.1"/>
<line x1="478.59" y1="326.4" x2="478.59" y2="329.09999999999997" stroke="#333" stroke-width="1.1"/>
<line x1="537.76" y1="326.4" x2="537.76" y2="329.09999999999997" stroke="#333" stroke-width="1.1"/>
<line x1="596.93" y1="326.4" x2="596.93" y2="329.09999999999997" stroke="#333" stroke-width="1.1"/>
<line x1="36.3" y1="309.50" x2="39.0" y2="309.50" stroke="#333" stroke-width="1.1"/>
<line x1="36.3" y1="263.55" x2="39.0" y2="263.55" stroke="#333" stroke-width="1.1"/>
<line x1="36.3" y1="217.60" x2="39.0" y2="217.60" stroke="#333" stroke-width="1.1"/>
<line x1="36.3" y1="171.65" x2="39.0" y2="171.65" stroke="#333" stroke-width="1.1"/>
<line x1="36.3" y1="125.70" x2="39.0" y2="125.70" stroke="#333" stroke-width="1.1"/>
<line x1="36.3" y1="79.75" x2="39.0" y2="79.75" stroke="#333" stroke-width="1.1"/>
<line x1="36.3" y1="33.80" x2="39.0" y2="33.80" stroke="#333" stroke-width="1.1"/>
<text transform="translate(64.40,338.0) scale(1,1.09)" font-size="9.65" fill="#4d4d4d" stroke="#4d4d4d" stroke-width="0.15" text-anchor="middle">0</text>
<text transform="translate(123.57,338.0) scale(1,1.09)" font-size="9.65" fill="#4d4d4d" stroke="#4d4d4d" stroke-width="0.15" text-anchor="middle">10</text>
<text transform="translate(182.74,338.0) scale(1,1.09)" font-size="9.65" fill="#4d4d4d" stroke="#4d4d4d" stroke-width="0.15" text-anchor="middle">20</text>
<text transform="translate(241.91,338.0) scale(1,1.09)" font-size="9.65" fill="#4d4d4d" stroke="#4d4d4d" stroke-width="0.15" text-anchor="middle">30</text>
<text transform="translate(301.08,338.0) scale(1,1.09)" font-size="9.65" fill="#4d4d4d" stroke="#4d4d4d" stroke-width="0.15" text-anchor="middle">40</text>
<text transform="translate(360.25,338.0) scale(1,1.09)" font-size="9.65" fill="#4d4d4d" stroke="#4d4d4d" stroke-width="0.15" text-anchor="middle">50</text>
<text transform="translate(419.42,338.0) scale(1,1.09)" font-size="9.65" fill="#4d4d4d" stroke="#4d4d4d" stroke-width="0.15" text-anchor="middle">60</text>
<text transform="translate(478.59,338.0) scale(1,1.09)" font-size="9.65" fill="#4d4d4d" stroke="#4d4d4d" stroke-width="0.15" text-anchor="middle">70</text>
<text transform="translate(537.76,338.0) scale(1,1.09)" font-size="9.65" fill="#4d4d4d" stroke="#4d4d4d" stroke-width="0.15" text-anchor="middle">80</text>
<text transform="translate(596.93,338.0) scale(1,1.09)" font-size="9.65" fill="#4d4d4d" stroke="#4d4d4d" stroke-width="0.15" text-anchor="middle">90</text>
<text transform="translate(35.4,313.95) scale(1,1.09)" font-size="9.65" fill="#4d4d4d" stroke="#4d4d4d" stroke-width="0.15" text-anchor="end">0</text>
<text transform="translate(35.4,268.00) scale(1,1.09)" font-size="9.65" fill="#4d4d4d" stroke="#4d4d4d" stroke-width="0.15" text-anchor="end">10</text>
<text transform="translate(35.4,222.05) scale(1,1.09)" font-size="9.65" fill="#4d4d4d" stroke="#4d4d4d" stroke-width="0.15" text-anchor="end">20</text>
<text transform="translate(35.4,176.10) scale(1,1.09)" font-size="9.65" fill="#4d4d4d" stroke="#4d4d4d" stroke-width="0.15" text-anchor="end">30</text>
<text transform="translate(35.4,130.15) scale(1,1.09)" font-size="9.65" fill="#4d4d4d" stroke="#4d4d4d" stroke-width="0.15" text-anchor="end">40</text>
<text transform="translate(35.4,84.20) scale(1,1.09)" font-size="9.65" fill="#4d4d4d" stroke="#4d4d4d" stroke-width="0.15" text-anchor="end">50</text>
<text transform="translate(35.4,38.25) scale(1,1.09)" font-size="9.65" fill="#4d4d4d" stroke="#4d4d4d" stroke-width="0.15" text-anchor="end">60</text>
<text transform="translate(317.9,355.55) scale(1,1.04)" font-size="11.55" fill="#000" stroke="#000" stroke-width="0.2" text-anchor="middle">Frequency of additional charging (%)</text>
<text transform="translate(9.8,163.9) rotate(-90)" font-size="11.55" fill="#000" stroke="#000" stroke-width="0.2" text-anchor="middle">Change in UF [percentage points] (Observed - Calculated)</text>
<rect x="77" y="6.5" width="208" height="125.5" fill="#fff"/>
<line x1="107.02" y1="9.2" x2="107.02" y2="122.2" stroke="#ebebeb" stroke-width="0.5"/>
<line x1="127.44" y1="9.2" x2="127.44" y2="122.2" stroke="#ebebeb" stroke-width="0.5"/>
<line x1="147.88" y1="9.2" x2="147.88" y2="122.2" stroke="#ebebeb" stroke-width="0.5"/>
<line x1="168.31" y1="9.2" x2="168.31" y2="122.2" stroke="#ebebeb" stroke-width="0.5"/>
<line x1="188.74" y1="9.2" x2="188.74" y2="122.2" stroke="#ebebeb" stroke-width="0.5"/>
<line x1="209.17" y1="9.2" x2="209.17" y2="122.2" stroke="#ebebeb" stroke-width="0.5"/>
<line x1="229.60" y1="9.2" x2="229.60" y2="122.2" stroke="#ebebeb" stroke-width="0.5"/>
<line x1="250.03" y1="9.2" x2="250.03" y2="122.2" stroke="#ebebeb" stroke-width="0.5"/>
<line x1="270.45" y1="9.2" x2="270.45" y2="122.2" stroke="#ebebeb" stroke-width="0.5"/>
<line x1="88.0" y1="118.26" x2="281.4" y2="118.26" stroke="#ebebeb" stroke-width="0.5"/>
<line x1="88.0" y1="100.34" x2="281.4" y2="100.34" stroke="#ebebeb" stroke-width="0.5"/>
<line x1="88.0" y1="82.42" x2="281.4" y2="82.42" stroke="#ebebeb" stroke-width="0.5"/>
<line x1="88.0" y1="64.50" x2="281.4" y2="64.50" stroke="#ebebeb" stroke-width="0.5"/>
<line x1="88.0" y1="46.58" x2="281.4" y2="46.58" stroke="#ebebeb" stroke-width="0.5"/>
<line x1="88.0" y1="28.66" x2="281.4" y2="28.66" stroke="#ebebeb" stroke-width="0.5"/>
<line x1="88.0" y1="10.74" x2="281.4" y2="10.74" stroke="#ebebeb" stroke-width="0.5"/>
<line x1="96.80" y1="9.2" x2="96.80" y2="122.2" stroke="#ebebeb" stroke-width="1.0"/>
<line x1="117.23" y1="9.2" x2="117.23" y2="122.2" stroke="#ebebeb" stroke-width="1.0"/>
<line x1="137.66" y1="9.2" x2="137.66" y2="122.2" stroke="#ebebeb" stroke-width="1.0"/>
<line x1="158.09" y1="9.2" x2="158.09" y2="122.2" stroke="#ebebeb" stroke-width="1.0"/>
<line x1="178.52" y1="9.2" x2="178.52" y2="122.2" stroke="#ebebeb" stroke-width="1.0"/>
<line x1="198.95" y1="9.2" x2="198.95" y2="122.2" stroke="#ebebeb" stroke-width="1.0"/>
<line x1="219.38" y1="9.2" x2="219.38" y2="122.2" stroke="#ebebeb" stroke-width="1.0"/>
<line x1="239.81" y1="9.2" x2="239.81" y2="122.2" stroke="#ebebeb" stroke-width="1.0"/>
<line x1="260.24" y1="9.2" x2="260.24" y2="122.2" stroke="#ebebeb" stroke-width="1.0"/>
<line x1="280.67" y1="9.2" x2="280.67" y2="122.2" stroke="#ebebeb" stroke-width="1.0"/>
<line x1="88.0" y1="109.30" x2="281.4" y2="109.30" stroke="#ebebeb" stroke-width="1.0"/>
<line x1="88.0" y1="91.38" x2="281.4" y2="91.38" stroke="#ebebeb" stroke-width="1.0"/>
<line x1="88.0" y1="73.46" x2="281.4" y2="73.46" stroke="#ebebeb" stroke-width="1.0"/>
<line x1="88.0" y1="55.54" x2="281.4" y2="55.54" stroke="#ebebeb" stroke-width="1.0"/>
<line x1="88.0" y1="37.62" x2="281.4" y2="37.62" stroke="#ebebeb" stroke-width="1.0"/>
<line x1="88.0" y1="19.70" x2="281.4" y2="19.70" stroke="#ebebeb" stroke-width="1.0"/>
<path d="M96.80,60.10 L98.04,60.11 L99.69,60.12 L101.65,60.14 L103.84,60.16 L106.15,60.17 L108.51,60.18 L110.83,60.19 L113.00,60.18 L115.11,60.16 L117.26,60.14 L119.45,60.11 L121.64,60.06 L123.81,60.00 L125.94,59.93 L128.01,59.85 L130.00,59.77 L131.90,59.68 L133.73,59.58 L135.51,59.48 L137.25,59.37 L138.96,59.25 L140.64,59.13 L142.32,59.00 L144.00,58.86 L145.67,58.72 L147.32,58.56 L148.95,58.40 L150.56,58.23 L152.17,58.03 L153.77,57.83 L155.38,57.63 L157.00,57.43 L158.60,57.23 L160.16,57.04 L161.70,56.85 L163.25,56.66 L164.83,56.46 L166.47,56.25 L168.18,56.03 L170.00,55.80 L171.93,55.55 L173.95,55.30 L176.04,55.03 L178.19,54.75 L180.38,54.46 L182.59,54.15 L184.80,53.84 L187.00,53.54 L189.09,53.25 L191.03,52.99 L192.93,52.74 L194.88,52.48 L196.96,52.20 L199.28,51.89 L201.93,51.53 L205.00,51.12 L208.58,50.63 L212.62,49.96 L216.99,49.16 L221.60,48.32 L226.32,47.46 L231.03,46.59 L235.63,45.74 L240.00,44.93 L244.40,44.09 L249.04,42.91 L253.76,41.68 L258.39,40.47 L262.74,39.33 L266.64,38.31 L269.92,37.45 L272.40,36.80 L272.40,52.80 L269.92,52.80 L266.64,52.81 L262.74,52.82 L258.39,52.83 L253.76,52.84 L249.04,52.84 L244.40,52.85 L240.00,53.07 L235.63,53.29 L231.03,53.50 L226.32,53.72 L221.60,53.93 L216.99,54.13 L212.62,54.32 L208.58,54.56 L205.00,54.88 L201.93,55.16 L199.28,55.39 L196.96,55.59 L194.88,55.77 L192.93,55.94 L191.03,56.10 L189.09,56.28 L187.00,56.46 L184.80,56.67 L182.59,56.87 L180.38,57.08 L178.19,57.31 L176.04,57.55 L173.95,57.77 L171.93,57.99 L170.00,58.20 L168.18,58.39 L166.47,58.58 L164.83,58.75 L163.25,58.92 L161.70,59.08 L160.16,59.25 L158.60,59.41 L157.00,59.57 L155.38,59.74 L153.77,59.90 L152.17,60.07 L150.56,60.24 L148.95,60.42 L147.32,60.60 L145.67,60.77 L144.00,60.94 L142.32,61.10 L140.64,61.25 L138.96,61.40 L137.25,61.54 L135.51,61.67 L133.73,61.80 L131.90,61.92 L130.00,62.03 L128.01,62.14 L125.94,62.25 L123.81,62.35 L121.64,62.44 L119.45,62.53 L117.26,62.63 L115.11,62.73 L113.00,62.82 L110.83,62.90 L108.51,62.98 L106.15,63.05 L103.84,63.12 L101.65,63.17 L99.69,63.22 L98.04,63.27 L96.80,63.30 Z" fill="#d6d6d6"/>
<line x1="97.00" y1="61.2" x2="97.00" y2="62.9" stroke="#303030" stroke-width="1.1"/>
<line x1="99.04" y1="61.7" x2="99.04" y2="63.75" stroke="#303030" stroke-width="1.1"/>
<line x1="101.09" y1="60.4" x2="101.09" y2="63.3" stroke="#303030" stroke-width="1.1"/>
<line x1="103.13" y1="59.6" x2="103.13" y2="62.9" stroke="#303030" stroke-width="1.1"/>
<line x1="105.17" y1="57.9" x2="105.17" y2="61.25" stroke="#303030" stroke-width="1.1"/>
<line x1="107.22" y1="59.2" x2="107.22" y2="63.75" stroke="#303030" stroke-width="1.1"/>
<line x1="109.26" y1="60" x2="109.26" y2="64.6" stroke="#303030" stroke-width="1.1"/>
<line x1="111.30" y1="58.75" x2="111.30" y2="64.6" stroke="#303030" stroke-width="1.1"/>
<line x1="113.34" y1="59.6" x2="113.34" y2="65.8" stroke="#303030" stroke-width="1.1"/>
<line x1="115.39" y1="61.25" x2="115.39" y2="67.5" stroke="#303030" stroke-width="1.1"/>
<line x1="117.43" y1="58.75" x2="117.43" y2="63.75" stroke="#303030" stroke-width="1.1"/>
<line x1="119.47" y1="56.7" x2="119.47" y2="62.9" stroke="#303030" stroke-width="1.1"/>
<line x1="121.52" y1="55.4" x2="121.52" y2="62.9" stroke="#303030" stroke-width="1.1"/>
<line x1="123.56" y1="57.1" x2="123.56" y2="65" stroke="#303030" stroke-width="1.1"/>
<line x1="125.60" y1="59.6" x2="125.60" y2="72.9" stroke="#303030" stroke-width="1.1"/>
<line x1="127.64" y1="57.1" x2="127.64" y2="67.1" stroke="#303030" stroke-width="1.1"/>
<line x1="129.69" y1="55.8" x2="129.69" y2="65.4" stroke="#303030" stroke-width="1.1"/>
<line x1="131.73" y1="52.5" x2="131.73" y2="61.7" stroke="#303030" stroke-width="1.1"/>
<line x1="133.77" y1="54.2" x2="133.77" y2="65.8" stroke="#303030" stroke-width="1.1"/>
<line x1="135.82" y1="59.2" x2="135.82" y2="71" stroke="#303030" stroke-width="1.1"/>
<line x1="137.86" y1="52.2" x2="137.86" y2="62" stroke="#303030" stroke-width="1.1"/>
<line x1="139.90" y1="50.1" x2="139.90" y2="61.3" stroke="#303030" stroke-width="1.1"/>
<line x1="141.95" y1="55.7" x2="141.95" y2="69.6" stroke="#303030" stroke-width="1.1"/>
<line x1="143.99" y1="46.7" x2="143.99" y2="59.9" stroke="#303030" stroke-width="1.1"/>
<line x1="146.03" y1="52.2" x2="146.03" y2="64.7" stroke="#303030" stroke-width="1.1"/>
<line x1="148.07" y1="57.1" x2="148.07" y2="76.25" stroke="#303030" stroke-width="1.1"/>
<line x1="150.12" y1="41.1" x2="150.12" y2="52.2" stroke="#303030" stroke-width="1.1"/>
<line x1="152.16" y1="51.25" x2="152.16" y2="62.5" stroke="#303030" stroke-width="1.1"/>
<line x1="154.20" y1="51.2" x2="154.20" y2="68.75" stroke="#303030" stroke-width="1.1"/>
<line x1="156.25" y1="50.2" x2="156.25" y2="66.8" stroke="#303030" stroke-width="1.1"/>
<line x1="158.29" y1="55" x2="158.29" y2="72.5" stroke="#303030" stroke-width="1.1"/>
<line x1="160.33" y1="48.1" x2="160.33" y2="66.9" stroke="#303030" stroke-width="1.1"/>
<line x1="162.38" y1="57.1" x2="162.38" y2="72.5" stroke="#303030" stroke-width="1.1"/>
<line x1="164.42" y1="51.25" x2="164.42" y2="64.4" stroke="#303030" stroke-width="1.1"/>
<line x1="166.46" y1="52.5" x2="166.46" y2="68.75" stroke="#303030" stroke-width="1.1"/>
<line x1="168.50" y1="41.25" x2="168.50" y2="56.9" stroke="#303030" stroke-width="1.1"/>
<line x1="170.55" y1="48.75" x2="170.55" y2="66.25" stroke="#303030" stroke-width="1.1"/>
<line x1="172.59" y1="47.9" x2="172.59" y2="81.5" stroke="#303030" stroke-width="1.1"/>
<line x1="174.63" y1="41.2" x2="174.63" y2="55" stroke="#303030" stroke-width="1.1"/>
<line x1="176.68" y1="55" x2="176.68" y2="81.5" stroke="#303030" stroke-width="1.1"/>
<line x1="178.72" y1="40.4" x2="178.72" y2="66.7" stroke="#303030" stroke-width="1.1"/>
<line x1="180.76" y1="42.9" x2="180.76" y2="57.5" stroke="#303030" stroke-width="1.1"/>
<line x1="182.81" y1="41.25" x2="182.81" y2="60.8" stroke="#303030" stroke-width="1.1"/>
<line x1="184.85" y1="45.4" x2="184.85" y2="58.3" stroke="#303030" stroke-width="1.1"/>
<line x1="186.89" y1="46.7" x2="186.89" y2="63.3" stroke="#303030" stroke-width="1.1"/>
<line x1="188.94" y1="45.8" x2="188.94" y2="62" stroke="#303030" stroke-width="1.1"/>
<line x1="190.98" y1="48.75" x2="190.98" y2="64.6" stroke="#303030" stroke-width="1.1"/>
<line x1="193.02" y1="36.25" x2="193.02" y2="61.7" stroke="#303030" stroke-width="1.1"/>
<line x1="195.06" y1="39.6" x2="195.06" y2="63.75" stroke="#303030" stroke-width="1.1"/>
<line x1="197.11" y1="36.7" x2="197.11" y2="60.4" stroke="#303030" stroke-width="1.1"/>
<line x1="199.15" y1="41.3" x2="199.15" y2="65.4" stroke="#303030" stroke-width="1.1"/>
<line x1="201.19" y1="39.2" x2="201.19" y2="65.9" stroke="#303030" stroke-width="1.1"/>
<line x1="203.24" y1="37.1" x2="203.24" y2="63" stroke="#303030" stroke-width="1.1"/>
<line x1="205.28" y1="43.3" x2="205.28" y2="66.8" stroke="#303030" stroke-width="1.1"/>
<line x1="207.32" y1="36.7" x2="207.32" y2="63.4" stroke="#303030" stroke-width="1.1"/>
<line x1="209.37" y1="47.1" x2="209.37" y2="77" stroke="#303030" stroke-width="1.1"/>
<line x1="211.41" y1="37.1" x2="211.41" y2="55.7" stroke="#303030" stroke-width="1.1"/>
<line x1="213.45" y1="38.75" x2="213.45" y2="55.7" stroke="#303030" stroke-width="1.1"/>
<line x1="215.49" y1="27.9" x2="215.49" y2="37.1" stroke="#303030" stroke-width="1.1"/>
<line x1="217.54" y1="30.8" x2="217.54" y2="55.2" stroke="#303030" stroke-width="1.1"/>
<line x1="219.58" y1="39.2" x2="219.58" y2="72.7" stroke="#303030" stroke-width="1.1"/>
<line x1="221.62" y1="37.9" x2="221.62" y2="55.7" stroke="#303030" stroke-width="1.1"/>
<line x1="223.67" y1="33" x2="223.67" y2="86.1" stroke="#303030" stroke-width="1.1"/>
<line x1="225.71" y1="18.8" x2="225.71" y2="81.7" stroke="#303030" stroke-width="1.1"/>
<line x1="227.75" y1="25.4" x2="227.75" y2="78.3" stroke="#303030" stroke-width="1.1"/>
<line x1="229.80" y1="37.2" x2="229.80" y2="56.7" stroke="#303030" stroke-width="1.1"/>
<line x1="231.84" y1="45" x2="231.84" y2="85.6" stroke="#303030" stroke-width="1.1"/>
<line x1="233.88" y1="26" x2="233.88" y2="52" stroke="#303030" stroke-width="1.1"/>
<line x1="235.92" y1="14.25" x2="235.92" y2="75" stroke="#303030" stroke-width="1.1"/>
<line x1="237.97" y1="43" x2="237.97" y2="54.5" stroke="#303030" stroke-width="1.1"/>
<line x1="240.01" y1="24" x2="240.01" y2="73.8" stroke="#303030" stroke-width="1.1"/>
<line x1="244.10" y1="28.6" x2="244.10" y2="116.9" stroke="#303030" stroke-width="1.1"/>
<circle cx="97.00" cy="62.10" r="1.1" fill="#000"/>
<circle cx="99.04" cy="62.60" r="1.1" fill="#000"/>
<circle cx="101.09" cy="61.66" r="1.1" fill="#000"/>
<circle cx="103.13" cy="61.64" r="1.1" fill="#000"/>
<circle cx="105.17" cy="59.58" r="1.1" fill="#000"/>
<circle cx="107.22" cy="61.60" r="1.1" fill="#000"/>
<circle cx="109.26" cy="61.57" r="1.1" fill="#000"/>
<circle cx="111.30" cy="61.54" r="1.1" fill="#000"/>
<circle cx="113.34" cy="61.49" r="1.1" fill="#000"/>
<circle cx="115.39" cy="64.38" r="1.1" fill="#000"/>
<circle cx="117.43" cy="61.38" r="1.1" fill="#000"/>
<circle cx="119.47" cy="61.32" r="1.1" fill="#000"/>
<circle cx="121.52" cy="61.25" r="1.1" fill="#000"/>
<circle cx="123.56" cy="61.18" r="1.1" fill="#000"/>
<circle cx="125.60" cy="67.50" r="1.1" fill="#000"/>
<circle cx="127.64" cy="61.01" r="1.1" fill="#000"/>
<circle cx="129.69" cy="60.92" r="1.1" fill="#000"/>
<circle cx="131.73" cy="57.10" r="1.1" fill="#000"/>
<circle cx="133.77" cy="60.68" r="1.1" fill="#000"/>
<circle cx="135.82" cy="65.40" r="1.1" fill="#000"/>
<circle cx="137.86" cy="60.40" r="1.1" fill="#000"/>
<circle cx="139.90" cy="55.70" r="1.1" fill="#000"/>
<circle cx="141.95" cy="63.30" r="1.1" fill="#000"/>
<circle cx="143.99" cy="55.00" r="1.1" fill="#000"/>
<circle cx="146.03" cy="59.71" r="1.1" fill="#000"/>
<circle cx="148.07" cy="67.75" r="1.1" fill="#000"/>
<circle cx="150.12" cy="47.40" r="1.1" fill="#000"/>
<circle cx="152.16" cy="59.05" r="1.1" fill="#000"/>
<circle cx="154.20" cy="58.82" r="1.1" fill="#000"/>
<circle cx="156.25" cy="58.58" r="1.1" fill="#000"/>
<circle cx="158.29" cy="63.75" r="1.1" fill="#000"/>
<circle cx="160.33" cy="58.12" r="1.1" fill="#000"/>
<circle cx="162.38" cy="65.00" r="1.1" fill="#000"/>
<circle cx="164.42" cy="57.65" r="1.1" fill="#000"/>
<circle cx="166.46" cy="61.90" r="1.1" fill="#000"/>
<circle cx="168.50" cy="51.00" r="1.1" fill="#000"/>
<circle cx="170.55" cy="56.94" r="1.1" fill="#000"/>
<circle cx="172.59" cy="65.00" r="1.1" fill="#000"/>
<circle cx="174.63" cy="47.70" r="1.1" fill="#000"/>
<circle cx="176.68" cy="69.20" r="1.1" fill="#000"/>
<circle cx="178.72" cy="55.97" r="1.1" fill="#000"/>
<circle cx="180.76" cy="50.00" r="1.1" fill="#000"/>
<circle cx="182.81" cy="51.25" r="1.1" fill="#000"/>
<circle cx="184.85" cy="52.10" r="1.1" fill="#000"/>
<circle cx="186.89" cy="55.01" r="1.1" fill="#000"/>
<circle cx="188.94" cy="54.78" r="1.1" fill="#000"/>
<circle cx="190.98" cy="54.55" r="1.1" fill="#000"/>
<circle cx="193.02" cy="47.10" r="1.1" fill="#000"/>
<circle cx="195.06" cy="54.10" r="1.1" fill="#000"/>
<circle cx="197.11" cy="48.75" r="1.1" fill="#000"/>
<circle cx="199.15" cy="53.66" r="1.1" fill="#000"/>
<circle cx="201.19" cy="53.43" r="1.1" fill="#000"/>
<circle cx="203.24" cy="53.20" r="1.1" fill="#000"/>
<circle cx="205.28" cy="52.97" r="1.1" fill="#000"/>
<circle cx="207.32" cy="52.74" r="1.1" fill="#000"/>
<circle cx="209.37" cy="64.90" r="1.1" fill="#000"/>
<circle cx="211.41" cy="47.00" r="1.1" fill="#000"/>
<circle cx="213.45" cy="47.40" r="1.1" fill="#000"/>
<circle cx="215.49" cy="32.50" r="1.1" fill="#000"/>
<circle cx="217.54" cy="43.30" r="1.1" fill="#000"/>
<circle cx="219.58" cy="56.20" r="1.1" fill="#000"/>
<circle cx="221.62" cy="46.20" r="1.1" fill="#000"/>
<circle cx="223.67" cy="60.00" r="1.1" fill="#000"/>
<circle cx="225.71" cy="50.66" r="1.1" fill="#000"/>
<circle cx="227.75" cy="50.42" r="1.1" fill="#000"/>
<circle cx="229.80" cy="44.80" r="1.1" fill="#000"/>
<circle cx="231.84" cy="65.20" r="1.1" fill="#000"/>
<circle cx="233.88" cy="40.00" r="1.1" fill="#000"/>
<circle cx="235.92" cy="44.60" r="1.1" fill="#000"/>
<circle cx="237.97" cy="48.00" r="1.1" fill="#000"/>
<circle cx="240.01" cy="49.00" r="1.1" fill="#000"/>
<circle cx="242.05" cy="79.80" r="1.1" fill="#000"/>
<circle cx="244.10" cy="72.90" r="1.1" fill="#000"/>
<circle cx="250.23" cy="44.70" r="1.1" fill="#000"/>
<circle cx="254.31" cy="26.30" r="1.1" fill="#000"/>
<circle cx="272.70" cy="31.00" r="1.1" fill="#000"/>
<path d="M96.80,61.70 L98.04,61.69 L99.69,61.67 L101.65,61.66 L103.84,61.64 L106.15,61.61 L108.51,61.58 L110.83,61.55 L113.00,61.50 L115.11,61.45 L117.26,61.39 L119.45,61.32 L121.64,61.25 L123.81,61.17 L125.94,61.09 L128.01,61.00 L130.00,60.90 L131.90,60.80 L133.73,60.69 L135.51,60.57 L137.25,60.45 L138.96,60.32 L140.64,60.19 L142.32,60.05 L144.00,59.90 L145.67,59.74 L147.32,59.58 L148.95,59.41 L150.56,59.23 L152.17,59.05 L153.77,58.87 L155.38,58.68 L157.00,58.50 L158.60,58.32 L160.16,58.14 L161.70,57.97 L163.25,57.79 L164.83,57.60 L166.47,57.41 L168.18,57.21 L170.00,57.00 L171.93,56.77 L173.95,56.54 L176.04,56.29 L178.19,56.03 L180.38,55.77 L182.59,55.51 L184.80,55.25 L187.00,55.00 L189.09,54.76 L191.03,54.55 L192.93,54.34 L194.88,54.12 L196.96,53.90 L199.28,53.64 L201.93,53.35 L205.00,53.00 L208.58,52.60 L212.62,52.14 L216.99,51.65 L221.60,51.12 L226.32,50.59 L231.03,50.05 L235.63,49.51 L240.00,49.00 L244.40,48.47 L249.04,47.91 L253.76,47.32 L258.39,46.75 L262.74,46.21 L266.64,45.72 L269.92,45.31 L272.40,45.00" fill="none" stroke="#3366ff" stroke-width="1.8"/>
<rect x="88.0" y="9.2" width="193.40" height="113.00" fill="none" stroke="#333" stroke-width="1.0"/>
<line x1="96.80" y1="122.2" x2="96.80" y2="124.4" stroke="#333" stroke-width="1.0"/>
<text transform="translate(96.80,129.6) scale(1,1.1)" font-size="8.0" fill="#4d4d4d" stroke="#4d4d4d" stroke-width="0.15" text-anchor="middle">0</text>
<line x1="117.23" y1="122.2" x2="117.23" y2="124.4" stroke="#333" stroke-width="1.0"/>
<text transform="translate(117.23,129.6) scale(1,1.1)" font-size="8.0" fill="#4d4d4d" stroke="#4d4d4d" stroke-width="0.15" text-anchor="middle">10</text>
<line x1="137.66" y1="122.2" x2="137.66" y2="124.4" stroke="#333" stroke-width="1.0"/>
<text transform="translate(137.66,129.6) scale(1,1.1)" font-size="8.0" fill="#4d4d4d" stroke="#4d4d4d" stroke-width="0.15" text-anchor="middle">20</text>
<line x1="158.09" y1="122.2" x2="158.09" y2="124.4" stroke="#333" stroke-width="1.0"/>
<text transform="translate(158.09,129.6) scale(1,1.1)" font-size="8.0" fill="#4d4d4d" stroke="#4d4d4d" stroke-width="0.15" text-anchor="middle">30</text>
<line x1="178.52" y1="122.2" x2="178.52" y2="124.4" stroke="#333" stroke-width="1.0"/>
<text transform="translate(178.52,129.6) scale(1,1.1)" font-size="8.0" fill="#4d4d4d" stroke="#4d4d4d" stroke-width="0.15" text-anchor="middle">40</text>
<line x1="198.95" y1="122.2" x2="198.95" y2="124.4" stroke="#333" stroke-width="1.0"/>
<text transform="translate(198.95,129.6) scale(1,1.1)" font-size="8.0" fill="#4d4d4d" stroke="#4d4d4d" stroke-width="0.15" text-anchor="middle">50</text>
<line x1="219.38" y1="122.2" x2="219.38" y2="124.4" stroke="#333" stroke-width="1.0"/>
<text transform="translate(219.38,129.6) scale(1,1.1)" font-size="8.0" fill="#4d4d4d" stroke="#4d4d4d" stroke-width="0.15" text-anchor="middle">60</text>
<line x1="239.81" y1="122.2" x2="239.81" y2="124.4" stroke="#333" stroke-width="1.0"/>
<text transform="translate(239.81,129.6) scale(1,1.1)" font-size="8.0" fill="#4d4d4d" stroke="#4d4d4d" stroke-width="0.15" text-anchor="middle">70</text>
<line x1="260.24" y1="122.2" x2="260.24" y2="124.4" stroke="#333" stroke-width="1.0"/>
<text transform="translate(260.24,129.6) scale(1,1.1)" font-size="8.0" fill="#4d4d4d" stroke="#4d4d4d" stroke-width="0.15" text-anchor="middle">80</text>
<line x1="280.67" y1="122.2" x2="280.67" y2="124.4" stroke="#333" stroke-width="1.0"/>
<text transform="translate(280.67,129.6) scale(1,1.1)" font-size="8.0" fill="#4d4d4d" stroke="#4d4d4d" stroke-width="0.15" text-anchor="middle">90</text>
<line x1="85.8" y1="109.30" x2="88.0" y2="109.30" stroke="#333" stroke-width="1.0"/>
<text transform="translate(85.9,112.10) scale(1,1.1)" font-size="8.0" fill="#4d4d4d" stroke="#4d4d4d" stroke-width="0.15" text-anchor="end">50</text>
<line x1="85.8" y1="91.38" x2="88.0" y2="91.38" stroke="#333" stroke-width="1.0"/>
<text transform="translate(85.9,94.18) scale(1,1.1)" font-size="8.0" fill="#4d4d4d" stroke="#4d4d4d" stroke-width="0.15" text-anchor="end">60</text>
<line x1="85.8" y1="73.46" x2="88.0" y2="73.46" stroke="#333" stroke-width="1.0"/>
<text transform="translate(85.9,76.26) scale(1,1.1)" font-size="8.0" fill="#4d4d4d" stroke="#4d4d4d" stroke-width="0.15" text-anchor="end">70</text>
<line x1="85.8" y1="55.54" x2="88.0" y2="55.54" stroke="#333" stroke-width="1.0"/>
<text transform="translate(85.9,58.34) scale(1,1.1)" font-size="8.0" fill="#4d4d4d" stroke="#4d4d4d" stroke-width="0.15" text-anchor="end">80</text>
<line x1="85.8" y1="37.62" x2="88.0" y2="37.62" stroke="#333" stroke-width="1.0"/>
<text transform="translate(85.9,40.42) scale(1,1.1)" font-size="8.0" fill="#4d4d4d" stroke="#4d4d4d" stroke-width="0.15" text-anchor="end">90</text>
<line x1="85.8" y1="19.70" x2="88.0" y2="19.70" stroke="#333" stroke-width="1.0"/>
<text transform="translate(85.9,22.50) scale(1,1.1)" font-size="8.0" fill="#4d4d4d" stroke="#4d4d4d" stroke-width="0.15" text-anchor="end">100</text>
<text x="163.4" y="140.1" font-size="9.95" fill="#000" stroke="#000" stroke-width="0.2" text-anchor="middle">Frequency of additional charging (%)</text>
<text transform="translate(55.1,70.2) rotate(-90)" font-size="9.95" fill="#000" stroke="#000" stroke-width="0.2" text-anchor="middle">UF [percentage points]</text>
<text transform="translate(65.4,70.5) rotate(-90)" font-size="9.95" fill="#000" stroke="#000" stroke-width="0.2" text-anchor="middle">(Observed)</text>
</g></svg></body></html>
